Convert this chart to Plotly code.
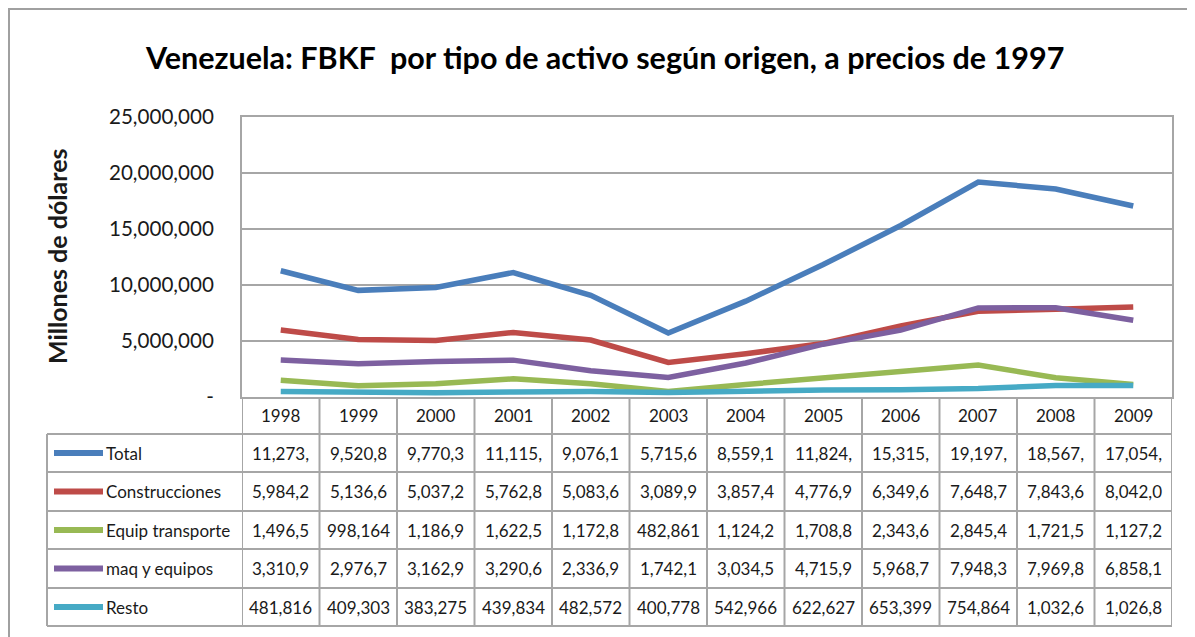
import plotly.graph_objects as go

W, H = 1195, 637

years = ["1998", "1999", "2000", "2001", "2002", "2003",
         "2004", "2005", "2006", "2007", "2008", "2009"]

series_names = ["Total", "Construcciones", "Equip transporte", "maq y equipos", "Resto"]

total = [11273450, 9520850, 9770350, 11115750, 9076150, 5715650,
         8559150, 11824350, 15315450, 19197350, 18567550, 17054250]
construcciones = [5984250, 5136650, 5037250, 5762850, 5083650, 3089950,
                  3857450, 4776950, 6349650, 7648750, 7843650, 8042050]
equip_transporte = [1496550, 998164, 1186950, 1622550, 1172850, 482861,
                    1124250, 1708850, 2343650, 2845450, 1721550, 1127250]
maq_equipos = [3310950, 2976750, 3162950, 3290650, 2336950, 1742150,
               3034550, 4715950, 5968750, 7948350, 7969850, 6858150]
resto = [481816, 409303, 383275, 439834, 482572, 400778,
         542966, 622627, 653399, 754864, 1032650, 1026850]

colors = ["#4a7ebb", "#be4b48", "#98b954", "#7d60a0", "#46aac5"]

y_tickvals = [0, 5000000, 10000000, 15000000, 20000000, 25000000]
y_ticktext = ["-", "5,000,000", "10,000,000", "15,000,000", "20,000,000", "25,000,000"]

all_series = [total, construcciones, equip_transporte, maq_equipos, resto]

# page offset of the plot div inside the browser window
OX, OY = 8, 8


def px(x):
    return (x - OX) / W


def py(y):
    return 1 - (y - OY) / H


def cell_text(v):
    # Excel truncates the numbers to the narrow column width
    return f"{v:,.0f}"[:7]


FONT = "Lato"
GRID = "#a6a6a6"
TXT = "#1a1a1a"

fig = go.Figure()
for name, vals, col in zip(series_names, all_series, colors):
    fig.add_trace(go.Scatter(
        x=list(range(len(years))), y=vals, name=name, mode="lines",
        line=dict(color=col, width=5.5), showlegend=False,
    ))

shapes = []
annotations = []

# outer chart border (right/bottom edges are cropped)
shapes.append(dict(type="rect", xref="paper", yref="paper",
                   x0=px(9), x1=px(1230), y0=py(9), y1=py(680),
                   line=dict(color="#a0a0a0", width=2)))

# data table grid
row_lines = [434, 472, 511, 549, 588, 626]
for yl in row_lines:
    shapes.append(dict(type="line", xref="paper", yref="paper",
                       x0=px(47), x1=px(1172), y0=py(yl), y1=py(yl),
                       line=dict(color=GRID, width=2)))
for k in range(len(years) + 1):
    shapes.append(dict(type="line", xref="x", yref="paper",
                       x0=k - 0.5, x1=k - 0.5, y0=py(397), y1=py(626),
                       line=dict(color=GRID, width=2)))
shapes.append(dict(type="line", xref="paper", yref="paper",
                   x0=px(47), x1=px(47), y0=py(434), y1=py(626),
                   line=dict(color=GRID, width=2)))

# year header
for i, yr in enumerate(years):
    annotations.append(dict(x=i, xref="x", y=py(415.5), yref="paper",
                            text=yr, showarrow=False, yanchor="middle",
                            font=dict(family=FONT, size=17, color=TXT)))

row_centers = [453, 491.5, 530, 568.5, 607]
for name, vals, col, yc in zip(series_names, all_series, colors, row_centers):
    # legend key
    shapes.append(dict(type="line", xref="paper", yref="paper",
                       x0=px(54), x1=px(103), y0=py(yc), y1=py(yc),
                       line=dict(color=col, width=6)))
    annotations.append(dict(x=px(104), xref="paper", y=py(yc), yref="paper",
                            text=name, showarrow=False, xanchor="left", yanchor="middle",
                            font=dict(family=FONT, size=17, color=TXT)))
    for i, v in enumerate(vals):
        annotations.append(dict(x=i, xref="x", y=py(yc), yref="paper",
                                text=cell_text(v), showarrow=False, yanchor="middle",
                                font=dict(family=FONT, size=17, color=TXT)))

# title
annotations.append(dict(x=px(604), y=py(57), xref="paper", yref="paper",
                        text="<b>Venezuela: FBKF  por tipo de activo según origen, a precios de 1997</b>",
                        showarrow=False, xanchor="center", yanchor="middle",
                        font=dict(family=FONT, size=30.5, color="#000000")))
# y axis title
annotations.append(dict(x=px(57), y=py(257), xref="paper", yref="paper",
                        text="<b>Millones de dólares</b>", textangle=-90,
                        showarrow=False, xanchor="center", yanchor="middle",
                        font=dict(family=FONT, size=25, color=TXT)))

fig.update_layout(
    template="none",
    width=W, height=H,
    margin=dict(l=0, r=0, t=0, b=0, autoexpand=False),
    paper_bgcolor="white", plot_bgcolor="white",
    xaxis=dict(domain=[px(242), px(1172)], range=[-0.5, 11.5], automargin=False,
               showticklabels=False, showgrid=False, zeroline=False, ticks="",
               showline=True, mirror=True, linecolor=GRID, linewidth=2),
    yaxis=dict(domain=[py(397), py(117)], range=[0, 25000000], automargin=False,
               tickvals=y_tickvals, ticktext=y_ticktext, ticks="",
               tickfont=dict(family=FONT, size=20.6, color=TXT),
               ticklabelstandoff=22,
               showgrid=True, gridcolor=GRID, gridwidth=2, zeroline=False,
               showline=True, mirror=True, linecolor=GRID, linewidth=2),
    shapes=shapes,
    annotations=annotations,
)

fig.write_html("out.html")
